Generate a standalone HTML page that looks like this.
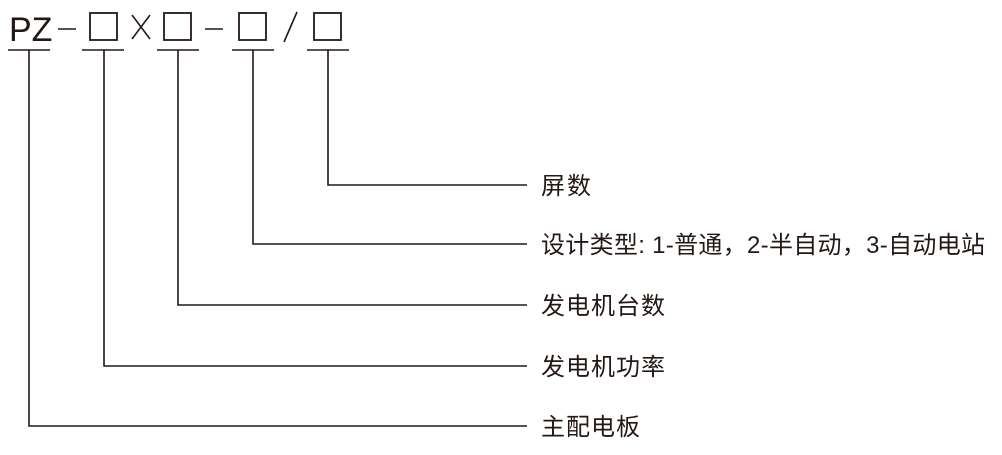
<!DOCTYPE html>
<html><head><meta charset="utf-8"><style>
html,body{margin:0;padding:0;background:#fff;}
</style></head><body>
<svg width="1002" height="450" viewBox="0 0 1002 450" xmlns="http://www.w3.org/2000/svg">
<g fill="none" stroke="#231815" stroke-width="1.6">
<line x1="8" y1="50" x2="50" y2="50"/>
<line x1="82" y1="50" x2="124" y2="50"/>
<line x1="157" y1="50" x2="199" y2="50"/>
<line x1="232" y1="50" x2="274" y2="50"/>
<line x1="307" y1="50" x2="349" y2="50"/>
<polyline points="29,50 29,426 527,426"/>
<polyline points="104,50 104,366 527,366"/>
<polyline points="178,50 178,305 527,305"/>
<polyline points="253,50 253,244 527,244"/>
<polyline points="328,50 328,185 527,185"/>
<rect x="90" y="13" width="27" height="27" stroke-width="1.8"/>
<rect x="164" y="13" width="27" height="27" stroke-width="1.8"/>
<rect x="239" y="13" width="27" height="27" stroke-width="1.8"/>
<rect x="314" y="13" width="27" height="27" stroke-width="1.8"/>
<line x1="58" y1="29" x2="76" y2="29"/>
<line x1="205" y1="29" x2="223" y2="29"/>
<line x1="132" y1="15" x2="150" y2="39"/>
<line x1="150" y1="15" x2="132" y2="39"/>
<line x1="297" y1="12" x2="284" y2="42"/>
</g>
<g fill="#231815" font-family="Liberation Sans, Noto Sans CJK SC, sans-serif">
<text x="9" y="41" font-size="34">PZ</text>
<g font-size="24">
<text x="541" y="194" textLength="50">屏数</text>
<text x="541" y="253" textLength="444" lengthAdjust="spacing">设计类型: 1-普通，2-半自动，3-自动电站</text>
<text x="541" y="314" textLength="124">发电机台数</text>
<text x="541" y="375" textLength="124">发电机功率</text>
<text x="541" y="435" textLength="99">主配电板</text>
</g></g>
</svg>
</body></html>
